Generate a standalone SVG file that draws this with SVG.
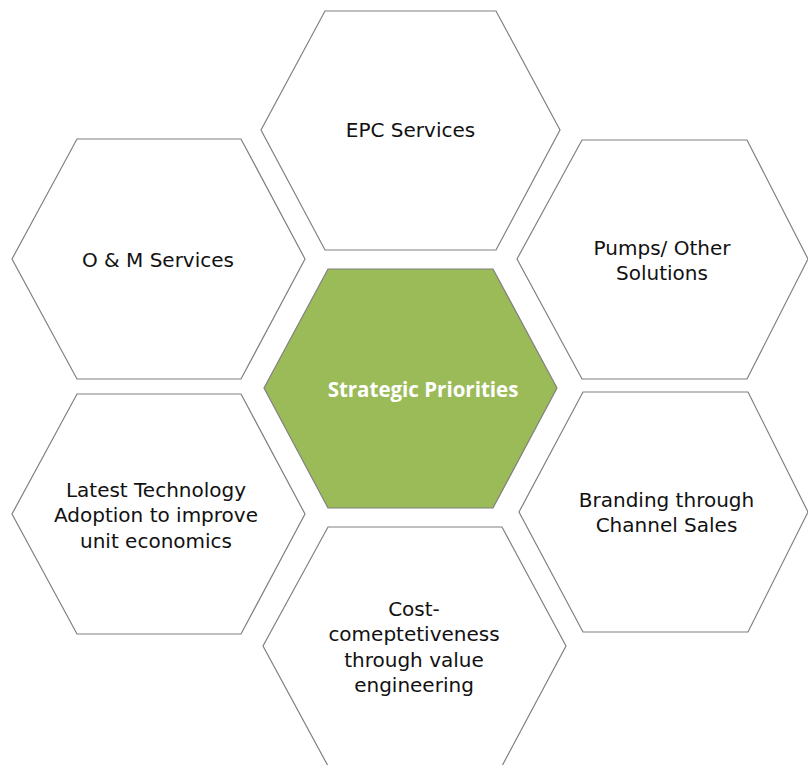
<svg xmlns="http://www.w3.org/2000/svg" width="808" height="765" viewBox="0 0 808 765">
<style>
.hex{fill:#ffffff;stroke:#808080;stroke-width:1.2}
.ctr{fill:#9BBB59;stroke:#808080;stroke-width:1.2}
.t{font-family:"DejaVu Sans","Open Sans",sans-serif;font-size:20px;fill:#111111;text-anchor:middle}
.tb{font-family:"Open Sans","DejaVu Sans",sans-serif;font-size:20.5px;font-weight:bold;fill:#ffffff;text-anchor:middle}
</style>
<rect width="808" height="765" fill="#ffffff"/>
<g id="epc">
<polygon class="hex" points="325,11 496,11 560,130 496,250 325,250 261,130"/>
<text class="t" x="410.5" y="137">EPC Services</text>
</g>
<g id="om">
<polygon class="hex" points="77,139 241,139 305,259 241,379 77,379 12,259"/>
<text class="t" x="158" y="267">O &amp; M Services</text>
</g>
<g id="pumps">
<polygon class="hex" points="582,140 747,140 808,259 747,379 582,379 517,259"/>
<text class="t" x="662" y="255">Pumps/ Other</text>
<text class="t" x="662" y="280">Solutions</text>
</g>
<g id="center">
<polygon class="ctr" points="328,269 493,269 557,388 493,508 328,508 264,388"/>
<text class="tb" x="423" y="397">Strategic Priorities</text>
</g>
<g id="latest">
<polygon class="hex" points="77,394 241,394 305,514 241,634 77,634 12,514"/>
<text class="t" x="156" y="497">Latest Technology</text>
<text class="t" x="156" y="522">Adoption to improve</text>
<text class="t" x="156" y="548">unit economics</text>
</g>
<g id="branding">
<polygon class="hex" points="583,392 748,392 808,512 748,632 583,632 519,512"/>
<text class="t" x="666.5" y="507">Branding through</text>
<text class="t" x="666.5" y="532">Channel Sales</text>
</g>
<g id="cost">
<polygon class="hex" points="328,527 502,527 566,646 502,766 328,766 263,646"/>
<text class="t" x="414" y="616">Cost-</text>
<text class="t" x="414" y="641">comeptetiveness</text>
<text class="t" x="414" y="667">through value</text>
<text class="t" x="414" y="692">engineering</text>
</g>
<g id="connectors"/>
</svg>
